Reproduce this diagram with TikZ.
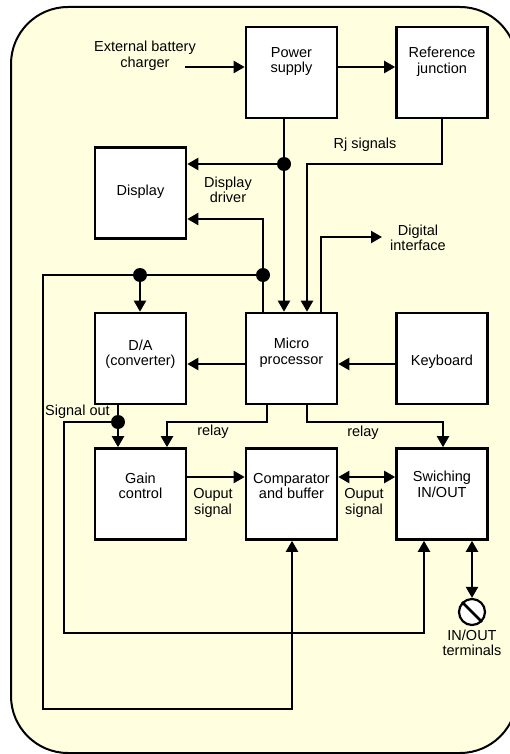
\documentclass[tikz,border=0pt]{standalone}
\usepackage{fontspec}
\setmainfont{Liberation Sans}
\usetikzlibrary{arrows.meta}
\definecolor{bgyellow}{RGB}{255,255,224}
\tikzset{
  blk/.style={draw=black, fill=white, line width=2.6pt, minimum width=91pt, minimum height=91pt, inner sep=0pt},
  txt/.style={font=\fontsize{14.5pt}{15.5pt}\selectfont, align=center, inner sep=0pt},
  conn/.style={line width=2.2pt, line join=miter},
  arr/.style={conn, -{Triangle[length=11pt,width=12pt]}},
  darr/.style={conn, {Triangle[length=11pt,width=12pt]}-{Triangle[length=11pt,width=12pt]}},
  jdot/.style={circle, fill=black, inner sep=0pt, minimum size=14pt}
}
\begin{document}
\begin{tikzpicture}[x=1pt,y=-1pt]
\useasboundingbox (0,0) rectangle (510,754);
\begin{scope}
\clip (0,0) rectangle (510,754);
\draw[line width=2pt, fill=bgyellow, rounded corners=57pt] (11,7) rectangle (517,753);
\end{scope}

% blocks
\node[blk] (ps) at (291.5,72.5) {};
\node[blk] (rj) at (442,72.5) {};
\node[blk] (disp) at (140.5,193) {};
\node[blk] (da) at (140.5,358.5) {};
\node[blk] (mp) at (291.5,358.5) {};
\node[blk] (kb) at (442,358.5) {};
\node[blk] (gc) at (140.5,494) {};
\node[blk] (cb) at (291.5,494) {};
\node[blk] (sw) at (442,494) {};

% block texts
\node[txt] (tps) at (291.5,61.5) {Power\\supply};
\node[txt] (trj) at (442,62) {Reference\\junction};
\node[txt] (tdisp) at (140.5,192) {Display};
\node[txt] (tda) at (140.5,354) {D/A\\(converter)};
\node[txt] (tmp) at (291.5,352.5) {Micro\\processor};
\node[txt] (tkb) at (442,362) {Keyboard};
\node[txt] (tgc) at (140.5,486) {Gain\\control};
\node[txt] (tcb) at (291.5,486) {Comparator\\and buffer};
\node[txt] (tsw) at (442,484.5) {Swiching\\IN/OUT};

% other labels
\node[txt] (lebc) at (145,56) {External battery\\charger};
\node[txt] (lrj) at (365,145) {Rj signals};
\node[txt] (ldd) at (228,190) {Display\\driver};
\node[txt] (ldi) at (418,238) {Digital\\interface};
\node[txt, anchor=west] (lso) at (45,412) {Signal out};
\node[txt] (lr1) at (213,432) {relay};
\node[txt] (lr2) at (363,433) {relay};
\node[txt] (los1) at (213,503) {Ouput\\signal};
\node[txt] (los2) at (364,503) {Ouput\\signal};
\node[txt] (lio) at (472,643) {IN/OUT\\terminals};

% coordinates
\coordinate (ebc) at (185,67);
\coordinate (d1) at (284,164);
\coordinate (rjc) at (307,164);
\coordinate (di) at (321,237);
\coordinate (diend) at (382,237);
\coordinate (dd) at (263,219);
\coordinate (d2) at (263,275);
\coordinate (d3) at (140,275);
\coordinate (la) at (43,275);
\coordinate (lb) at (43,709);
\coordinate (lc) at (292,709);
\coordinate (r2) at (0,364);
\coordinate (d4) at (118,422);
\coordinate (ma) at (64,422);
\coordinate (mb) at (64,633);
\coordinate (mc) at (424,633);
\coordinate (rl1) at (267,422);
\coordinate (rl1e) at (167,422);
\coordinate (rl2) at (307,422);
\coordinate (rl2e) at (443,422);
\coordinate (r3) at (0,477);
\coordinate (sb) at (472,0);

% terminal
\node[circle, draw, line width=2.2pt, fill=white, minimum size=26pt, inner sep=0pt] (term) at (472,612) {};
\draw[line width=2.6pt] (term.north west) -- (term.south east);

% connectors
\draw[arr] (ebc) -- (ps.west |- ebc);
\draw[arr] (ps.east |- ebc) -- (rj.west |- ebc);
\draw[conn] (d1 |- ps.south) -- (d1);
\draw[arr] (d1) -- (d1 |- mp.north);
\draw[arr] (d1) -- (d1 -| disp.east);
\draw[arr] (rj.south) |- (rjc) -- (rjc |- mp.north);
\draw[arr] (di |- mp.north) -- (di) -- (diend);
\draw[arr] (dd |- mp.north) -- (dd) -- (dd -| disp.east);
\draw[conn] (d2) -- (d3);
\draw[arr] (d3) -- (d3 |- da.north);
\draw[arr] (d3) -- (la) -- (lb) -- (lc) -- (lc |- cb.south);
\draw[arr] (mp.west |- r2) -- (da.east |- r2);
\draw[arr] (kb.west |- r2) -- (mp.east |- r2);
\draw[conn] (d4 |- da.south) -- (d4);
\draw[arr] (d4) -- (d4 |- gc.north);
\draw[arr] (d4) -- (ma) -- (mb) -- (mc) -- (mc |- sw.south);
\draw[arr] (rl1 |- mp.south) -- (rl1) -- (rl1e) -- (rl1e |- gc.north);
\draw[arr] (rl2 |- mp.south) -- (rl2) -- (rl2e) -- (rl2e |- sw.north);
\draw[arr] (gc.east |- r3) -- (cb.west |- r3);
\draw[darr] (cb.east |- r3) -- (sw.west |- r3);
\draw[darr] (sb |- sw.south) -- (term.north);

% junction dots
\node[jdot] (j1) at (d1) {};
\node[jdot] (j2) at (d2) {};
\node[jdot] (j3) at (d3) {};
\node[jdot] (j4) at (d4) {};
\end{tikzpicture}
\end{document}
